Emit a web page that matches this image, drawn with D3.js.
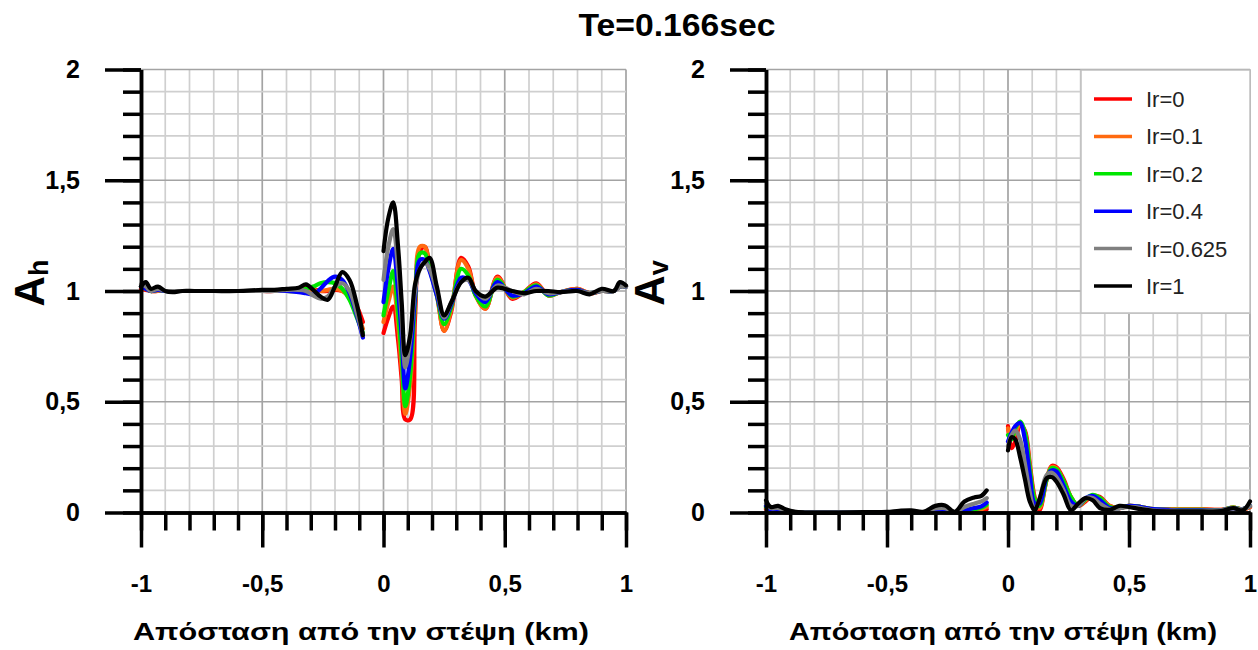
<!DOCTYPE html>
<html lang='en'>
  <head>
    <meta charset='utf-8'>
    <title>Te=0.166sec</title>
    <script type='text/javascript' src='https://cdn.jsdelivr.net/npm/d3@7/dist/d3.min.js'></script>
    <style>
      body { margin: 0; background: #fff; }
      text { font-family: 'Liberation Sans', Arial, sans-serif; }
    </style>
  </head>
  <body>
    <script type='text/javascript'>

      // series names and colours
      var seriesNames = ['Ir=0', 'Ir=0.1', 'Ir=0.2', 'Ir=0.4', 'Ir=0.625', 'Ir=1'];
      var seriesColors = ['#ff0000', '#ff6a10', '#00e600', '#0000ff', '#808080', '#000000'];

      var xTicks = [-1, -0.5, 0, 0.5, 1];
      var xTickLabels = ['-1', '-0,5', '0', '0,5', '1'];
      var yTicks = [0, 0.5, 1, 1.5, 2];
      var yTickLabels = ['0', '0,5', '1', '1,5', '2'];

      // ---- left panel: A_h ----
      var xLeftA = [-1, -0.98, -0.96, -0.93, -0.9, -0.87, -0.83, -0.78, -0.7, -0.6, -0.5, -0.45,
                    -0.4, -0.35, -0.32, -0.29, -0.26, -0.23, -0.2, -0.17, -0.14, -0.11, -0.085];
      var ahA = [
        [1.01, 1.005, 1.0, 1.0, 1.0, 1.0, 1.0, 1.0, 1.0, 1.0, 1.0, 1.0, 1.005, 1.01, 1.02, 1.01, 1.0, 1.0, 1.005, 1.0, 0.98, 0.93, 0.86],
        [1.02, 1.01, 1.0, 1.0, 1.0, 1.0, 1.0, 1.0, 1.0, 1.0, 1.0, 1.0, 1.0, 1.0, 1.005, 1.005, 1.0, 1.005, 1.01, 1.0, 0.97, 0.9, 0.83],
        [1.02, 1.01, 1.0, 1.005, 1.0, 1.0, 1.0, 1.0, 1.0, 1.0, 1.0, 1.0, 1.0, 1.0, 1.01, 1.02, 1.035, 1.04, 1.035, 1.01, 0.96, 0.88, 0.81],
        [1.02, 1.01, 1.0, 1.005, 1.0, 1.0, 1.0, 1.0, 1.0, 1.0, 1.0, 1.0, 1.0, 0.995, 0.99, 0.985, 1.01, 1.045, 1.065, 1.05, 0.99, 0.89, 0.79],
        [1.03, 1.02, 1.0, 1.01, 1.0, 1.0, 1.0, 1.0, 1.0, 1.0, 1.0, 1.0, 1.005, 1.005, 1.0, 0.98, 0.965, 0.975, 1.02, 1.035, 1.0, 0.9, 0.8],
        [1.02, 1.04, 1.01, 1.02, 1.0, 0.995, 1.0, 1.0, 1.0, 1.0, 1.005, 1.005, 1.01, 1.015, 1.03, 1.005, 0.975, 0.96, 1.02, 1.085, 1.05, 0.94, 0.8]
      ];
      var xLeftB = [0, 0.02, 0.04, 0.06, 0.075, 0.09, 0.11, 0.13, 0.15, 0.17, 0.19, 0.22, 0.25, 0.28, 0.32,
                    0.35, 0.38, 0.42, 0.47, 0.53, 0.58, 0.63, 0.68, 0.73, 0.8, 0.85, 0.9, 0.95, 0.975, 1];
      var ahB = [
        [0.81, 0.88, 0.93, 0.78, 0.6, 0.42, 0.42, 0.88, 1.18, 1.2, 1.12, 0.99, 0.82, 0.91, 1.15, 1.11, 0.98, 0.92, 1.065, 0.965, 0.995, 1.035, 0.98, 0.995, 1.01, 0.99, 1.0, 1.0, 1.02, 1.02],
        [0.86, 0.95, 1.02, 0.85, 0.65, 0.445, 0.58, 0.95, 1.2, 1.2, 1.11, 0.98, 0.82, 0.92, 1.14, 1.1, 0.98, 0.92, 1.06, 0.97, 0.995, 1.03, 0.98, 0.995, 1.01, 0.99, 1.0, 1.0, 1.02, 1.02],
        [0.89, 1.0, 1.09, 0.9, 0.7, 0.48, 0.62, 0.95, 1.17, 1.17, 1.1, 0.98, 0.85, 0.93, 1.1, 1.07, 0.98, 0.93, 1.05, 0.975, 0.995, 1.025, 0.98, 0.995, 1.005, 0.99, 1.0, 1.0, 1.02, 1.02],
        [0.95, 1.1, 1.19, 1.0, 0.8, 0.56, 0.7, 0.97, 1.14, 1.14, 1.09, 0.98, 0.875, 0.94, 1.06, 1.05, 0.99, 0.95, 1.04, 0.98, 0.99, 1.02, 0.985, 0.995, 1.005, 0.99, 1.0, 1.0, 1.02, 1.02],
        [1.05, 1.2, 1.28, 1.1, 0.88, 0.655, 0.78, 1.0, 1.1, 1.13, 1.1, 1.0, 0.88, 0.95, 1.04, 1.05, 1.0, 0.965, 1.025, 1.0, 0.985, 1.01, 0.99, 0.995, 1.0, 0.99, 1.0, 1.0, 1.02, 1.02],
        [1.18, 1.33, 1.4, 1.2, 0.95, 0.71, 0.8, 1.03, 1.1, 1.13, 1.15, 1.02, 0.89, 0.95, 1.04, 1.06, 1.0, 0.975, 1.015, 1.0, 0.99, 1.0, 1.0, 0.995, 1.0, 0.985, 1.01, 1.0, 1.04, 1.025]
      ];

      // ---- right panel: A_v ----
      var xRightA = [-1, -0.98, -0.95, -0.92, -0.88, -0.84, -0.8, -0.7, -0.6, -0.5, -0.45, -0.4,
                     -0.35, -0.3, -0.26, -0.22, -0.18, -0.14, -0.11, -0.088];
      var avA = [
        [0.015, 0.004, 0.004, 0.002, 0, 0, 0, 0, 0, 0, 0, 0, 0, 0.002, 0.002, 0, 0.002, 0.006, 0.009, 0.015],
        [0.02, 0.006, 0.005, 0.003, 0, 0, 0, 0, 0, 0, 0, 0, 0, 0.003, 0.002, 0, 0.004, 0.01, 0.015, 0.025],
        [0.025, 0.01, 0.008, 0.004, 0, 0, 0, 0, 0, 0, 0, 0, 0, 0.004, 0.004, 0, 0.008, 0.015, 0.022, 0.035],
        [0.03, 0.012, 0.01, 0.005, 0, 0, 0, 0, 0, 0, 0, 0.002, 0, 0.005, 0.006, 0, 0.01, 0.02, 0.028, 0.045],
        [0.04, 0.02, 0.02, 0.01, 0.003, 0, 0, 0, 0, 0, 0.002, 0.004, 0.002, 0.018, 0.02, 0.002, 0.025, 0.04, 0.05, 0.065],
        [0.055, 0.025, 0.03, 0.015, 0.003, 0, 0, 0, 0.002, 0.003, 0.008, 0.01, 0.003, 0.03, 0.032, 0.003, 0.05, 0.068, 0.075, 0.1]
      ];
      var xRightB = [0, 0.015, 0.03, 0.05, 0.07, 0.09, 0.11, 0.13, 0.16, 0.18, 0.2, 0.23, 0.26, 0.29,
                     0.32, 0.35, 0.38, 0.42, 0.46, 0.5, 0.55, 0.6, 0.7, 0.8, 0.88, 0.93, 0.97, 1];
      var avB = [
        [0.39, 0.29, 0.32, 0.395, 0.37, 0.22, 0.07, 0.01, 0.15, 0.21, 0.205, 0.15, 0.07, 0.03, 0.05, 0.075, 0.07, 0.03, 0.02, 0.03, 0.025, 0.015, 0.015, 0.015, 0.012, 0.022, 0.015, 0.025],
        [0.38, 0.33, 0.36, 0.4, 0.36, 0.21, 0.06, 0.02, 0.15, 0.205, 0.2, 0.14, 0.07, 0.03, 0.055, 0.075, 0.065, 0.03, 0.02, 0.03, 0.025, 0.015, 0.015, 0.015, 0.012, 0.022, 0.015, 0.025],
        [0.35, 0.33, 0.38, 0.41, 0.36, 0.2, 0.06, 0.03, 0.15, 0.2, 0.195, 0.14, 0.07, 0.03, 0.06, 0.08, 0.065, 0.025, 0.02, 0.03, 0.025, 0.015, 0.012, 0.012, 0.01, 0.022, 0.015, 0.03],
        [0.32, 0.36, 0.39, 0.405, 0.33, 0.17, 0.04, 0.04, 0.16, 0.19, 0.185, 0.12, 0.05, 0.03, 0.065, 0.075, 0.055, 0.02, 0.02, 0.03, 0.025, 0.015, 0.01, 0.01, 0.01, 0.02, 0.015, 0.03],
        [0.3, 0.35, 0.37, 0.33, 0.22, 0.09, 0.01, 0.06, 0.17, 0.18, 0.16, 0.1, 0.03, 0.03, 0.065, 0.065, 0.04, 0.015, 0.02, 0.025, 0.02, 0.01, 0.008, 0.008, 0.01, 0.02, 0.015, 0.03],
        [0.28, 0.34, 0.33, 0.25, 0.15, 0.05, 0.01, 0.06, 0.155, 0.16, 0.14, 0.08, 0.01, 0.04, 0.065, 0.055, 0.02, 0.012, 0.03, 0.025, 0.015, 0.008, 0.005, 0.005, 0.006, 0.02, 0.01, 0.05]
      ];

      var W = 1258, H = 650;
      var plotTop = 69.5, plotBottom = 512.5;

      var svg = d3.select('body')
                  .append('svg')
                  .attr('width', W)
                  .attr('height', H);

      svg.append('text')
         .attr('x', 677)
         .attr('y', 36)
         .attr('text-anchor', 'middle')
         .attr('font-size', '32px')
         .attr('font-weight', 'bold')
         .attr('textLength', 197)
         .attr('lengthAdjust', 'spacingAndGlyphs')
         .text('Te=0.166sec');

      function drawPanel(opts){
        var g = svg.append('g');
        var x = d3.scaleLinear().domain([-1, 1]).range([opts.left, opts.right]);
        var y = d3.scaleLinear().domain([0, 2]).range([plotBottom, plotTop]);
        var minorY = d3.range(0, 21).map(function(i){ return i / 10; });
        var minorX = d3.range(-10, 11).map(function(i){ return i / 10; });
        var isMajor = function(d){ return Math.abs(d * 2 - Math.round(d * 2)) < 1e-6; };

        // grid
        g.selectAll('.gx')
         .data(minorX)
         .enter()
         .append('line')
         .attr('x1', function(d){ return x(d); })
         .attr('x2', function(d){ return x(d); })
         .attr('y1', plotTop)
         .attr('y2', plotBottom)
         .attr('stroke', function(d){ return isMajor(d) ? '#a3a3a3' : '#cfcfcf'; })
         .attr('stroke-width', 1.7);
        g.selectAll('.gy')
         .data(minorY)
         .enter()
         .append('line')
         .attr('x1', opts.left)
         .attr('x2', opts.right)
         .attr('y1', function(d){ return y(d); })
         .attr('y2', function(d){ return y(d); })
         .attr('stroke', function(d){ return isMajor(d) ? '#a3a3a3' : '#cfcfcf'; })
         .attr('stroke-width', 1.7);

        // curves, two pieces each (before and after the crest)
        var line = d3.line()
                     .x(function(d){ return x(d[0]); })
                     .y(function(d){ return y(d[1]); })
                     .curve(d3.curveCatmullRom.alpha(0.5));
        seriesNames.forEach(function(name, s){
          [[opts.xa, opts.va[s]], [opts.xb, opts.vb[s]]].forEach(function(part){
            var pts = part[0].map(function(xv, i){ return [xv, part[1][i]]; });
            g.append('path')
             .datum(pts)
             .attr('d', line)
             .attr('fill', 'none')
             .attr('stroke', seriesColors[s])
             .attr('stroke-width', 4.2)
             .attr('stroke-linejoin', 'round')
             .attr('stroke-linecap', 'round');
          });
        });

        // axes: minor ticks first, then major ticks with labels
        var yMinor = g.append('g')
                      .attr('transform', 'translate(' + opts.left + ',0)')
                      .call(d3.axisLeft(y).tickValues(minorY).tickSize(18).tickSizeOuter(0).tickFormat(''));
        var yMajor = g.append('g')
                      .attr('transform', 'translate(' + opts.left + ',0)')
                      .call(d3.axisLeft(y).tickValues(yTicks).tickSize(36).tickSizeOuter(0).tickPadding(25)
                              .tickFormat(function(d, i){ return yTickLabels[i]; }));
        var xMinor = g.append('g')
                      .attr('transform', 'translate(0,' + plotBottom + ')')
                      .call(d3.axisBottom(x).tickValues(minorX).tickSize(18).tickSizeOuter(0).tickFormat(''));
        var xMajor = g.append('g')
                      .attr('transform', 'translate(0,' + plotBottom + ')')
                      .call(d3.axisBottom(x).tickValues(xTicks).tickSize(35).tickSizeOuter(0).tickPadding(27)
                              .tickFormat(function(d, i){ return xTickLabels[i]; }));
        [yMinor, yMajor, xMinor, xMajor].forEach(function(a){
          a.selectAll('path, line').attr('stroke', '#000').attr('stroke-width', 3.5);
          a.selectAll('text')
           .attr('fill', '#000')
           .attr('font-size', '25px')
           .attr('font-weight', 'bold')
           .attr('font-family', "'Liberation Sans', Arial, sans-serif");
        });
        xMajor.selectAll('text').attr('font-size', '24px');

        // axis titles
        g.append('text')
         .attr('x', opts.titleX)
         .attr('y', 640)
         .attr('text-anchor', 'middle')
         .attr('font-size', '24px')
         .attr('font-weight', 'bold')
         .attr('textLength', opts.titleLen)
         .attr('lengthAdjust', 'spacingAndGlyphs')
         .text('Απόσταση από την στέψη (km)');

        var yl = g.append('text')
                  .attr('transform', 'translate(' + opts.ylabX + ',283) rotate(-90)')
                  .attr('text-anchor', 'middle')
                  .attr('font-size', '42px')
                  .attr('font-weight', 'bold');
        yl.append('tspan').text('A');
        yl.append('tspan').attr('font-size', '27px').attr('dy', 4).text(opts.sub);
      }

      drawPanel({ left: 141, right: 626, xa: xLeftA, va: ahA, xb: xLeftB, vb: ahB,
                  titleX: 361, titleLen: 456, ylabX: 44, sub: 'h' });
      drawPanel({ left: 766, right: 1250, xa: xRightA, va: avA, xb: xRightB, vb: avB,
                  titleX: 1003, titleLen: 428, ylabX: 664, sub: 'v' });

      // legend
      var lg = svg.append('g');
      lg.append('rect')
        .attr('x', 1081)
        .attr('y', 70)
        .attr('width', 169)
        .attr('height', 243)
        .attr('fill', '#fff')
        .attr('stroke', '#c0c0c0')
        .attr('stroke-width', 1.5);
      var item = lg.selectAll('.item')
                   .data(seriesNames)
                   .enter()
                   .append('g')
                   .attr('transform', function(d, i){ return 'translate(0,' + (99 + i * 37.4) + ')'; });
      item.append('line')
          .attr('x1', 1094)
          .attr('x2', 1132)
          .attr('stroke', function(d, i){ return seriesColors[i]; })
          .attr('stroke-width', 3.5);
      item.append('text')
          .attr('x', 1146)
          .attr('y', 8)
          .attr('font-size', '22px')
          .attr('font-family', "Lato, 'Open Sans', sans-serif")
          .attr('fill', '#222')
          .text(function(d){ return d; });

    </script>
  </body>
</html>
